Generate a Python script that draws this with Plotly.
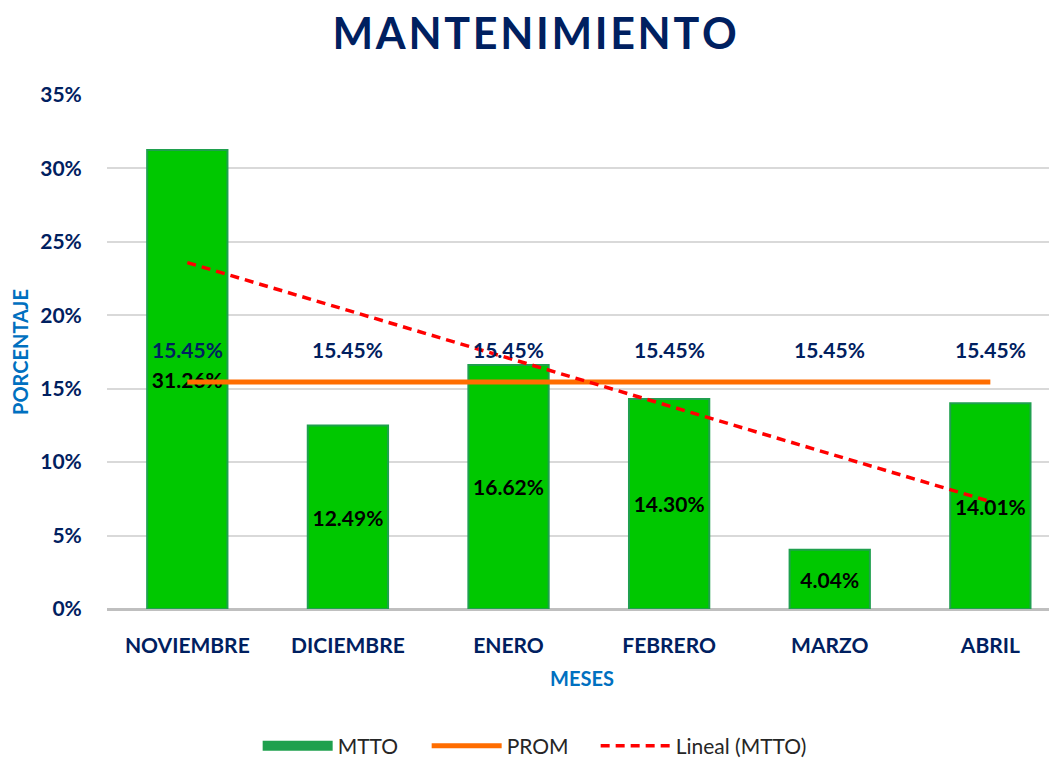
import numpy as np
import plotly.graph_objects as go

meses = ["NOVIEMBRE", "DICIEMBRE", "ENERO", "FEBRERO", "MARZO", "ABRIL"]
mtto = [31.26, 12.49, 16.62, 14.30, 4.04, 14.01]
prom = [15.45, 15.45, 15.45, 15.45, 15.45, 15.45]

_NAVY = "#002060"
_BLUE = "#0070C0"
_GREEN = "#00C800"
_EDGE = "#1FA04E"
_ORANGE = "#FF6D00"
_RED = "#FF0000"
_FONT = "Lato"

# linear trend of MTTO (like Excel's "Lineal" trendline)
idx = np.arange(1, len(mtto) + 1)
slope, intercept = np.polyfit(idx, mtto, 1)
trend = slope * idx + intercept

fig = go.Figure()
# legend-only entry so the MTTO swatch is a wide band, as in Excel
fig.add_trace(
    go.Scatter(
        x=[None],
        y=[None],
        name="MTTO",
        mode="lines",
        line={"color": _EDGE, "width": 14},
        legendwidth=84,
    )
)
fig.add_trace(
    go.Bar(
        x=meses,
        y=mtto,
        name="MTTO",
        showlegend=False,
        width=0.5,
        marker={"color": _GREEN, "line": {"color": _EDGE, "width": 2}},
        text=[f"{v:.2f}%" for v in mtto],
        textposition="inside",
        insidetextanchor="middle",
        textangle=0,
        textfont={"family": _FONT, "size": 21, "color": "black", "weight": "bold"},
    )
)
fig.add_trace(
    go.Scatter(
        x=meses,
        y=prom,
        name="PROM",
        mode="lines",
        line={"color": _ORANGE, "width": 5},
        legendwidth=84,
    )
)
fig.add_trace(
    go.Scatter(
        x=meses,
        y=trend,
        name="Lineal (MTTO)",
        mode="lines",
        line={"color": _RED, "width": 3.5, "dash": "9px,6px"},
        legendwidth=160,
    )
)

for m, p in zip(meses, prom):
    fig.add_annotation(
        x=m,
        y=p,
        text=f"{p:.2f}%",
        showarrow=False,
        yshift=33,
        font={"family": _FONT, "size": 21, "color": _NAVY, "weight": "bold"},
    )

# the page adds an 8px body margin, so the figure is 8px smaller than the window
title_text = "\u200a".join("MANTENIMIENTO")
fig.update_layout(
    width=1049,
    height=750,
    paper_bgcolor="white",
    plot_bgcolor="white",
    margin={"l": 99, "r": 0, "t": 87, "b": 149},
    font={"family": _FONT, "color": _NAVY},
    title={
        "text": f"<b>{title_text}</b>",
        "x": 0.502,
        "xanchor": "center",
        "y": 0.966,
        "yanchor": "middle",
        "font": {"size": 43, "color": _NAVY, "family": _FONT},
    },
    showlegend=True,
    legend={
        "orientation": "h",
        "xref": "container",
        "yref": "container",
        "x": 0.238,
        "xanchor": "left",
        "y": 0.016,
        "yanchor": "middle",
        "font": {"size": 21, "color": "#262626", "family": _FONT},
        "traceorder": "normal",
        "itemwidth": 70,
    },
    xaxis={
        "type": "category",
        "categoryorder": "array",
        "categoryarray": meses,
        "range": [-0.5, 5.415],
        "showgrid": False,
        "showline": False,
        "ticks": "outside",
        "ticklen": 18,
        "tickcolor": "rgba(0,0,0,0)",
        "tickfont": {"size": 21, "color": _NAVY, "weight": "bold"},
        "title": {
            "text": "<b>MESES</b>",
            "font": {"size": 20, "color": _BLUE},
            "standoff": 15,
        },
    },
    yaxis={
        "range": [0, 35],
        "dtick": 5,
        "ticksuffix": "%",
        "showgrid": True,
        "gridcolor": "#D9D9D9",
        "gridwidth": 2,
        "zeroline": True,
        "zerolinecolor": "#BFBFBF",
        "zerolinewidth": 3,
        "ticks": "outside",
        "ticklen": 20,
        "tickcolor": "rgba(0,0,0,0)",
        "tickfont": {"size": 21, "color": _NAVY, "weight": "bold"},
        "title": {
            "text": "<b>PORCENTAJE</b>",
            "font": {"size": 20, "color": _BLUE},
            "standoff": 10,
        },
    },
)

fig.write_html("out.html")
